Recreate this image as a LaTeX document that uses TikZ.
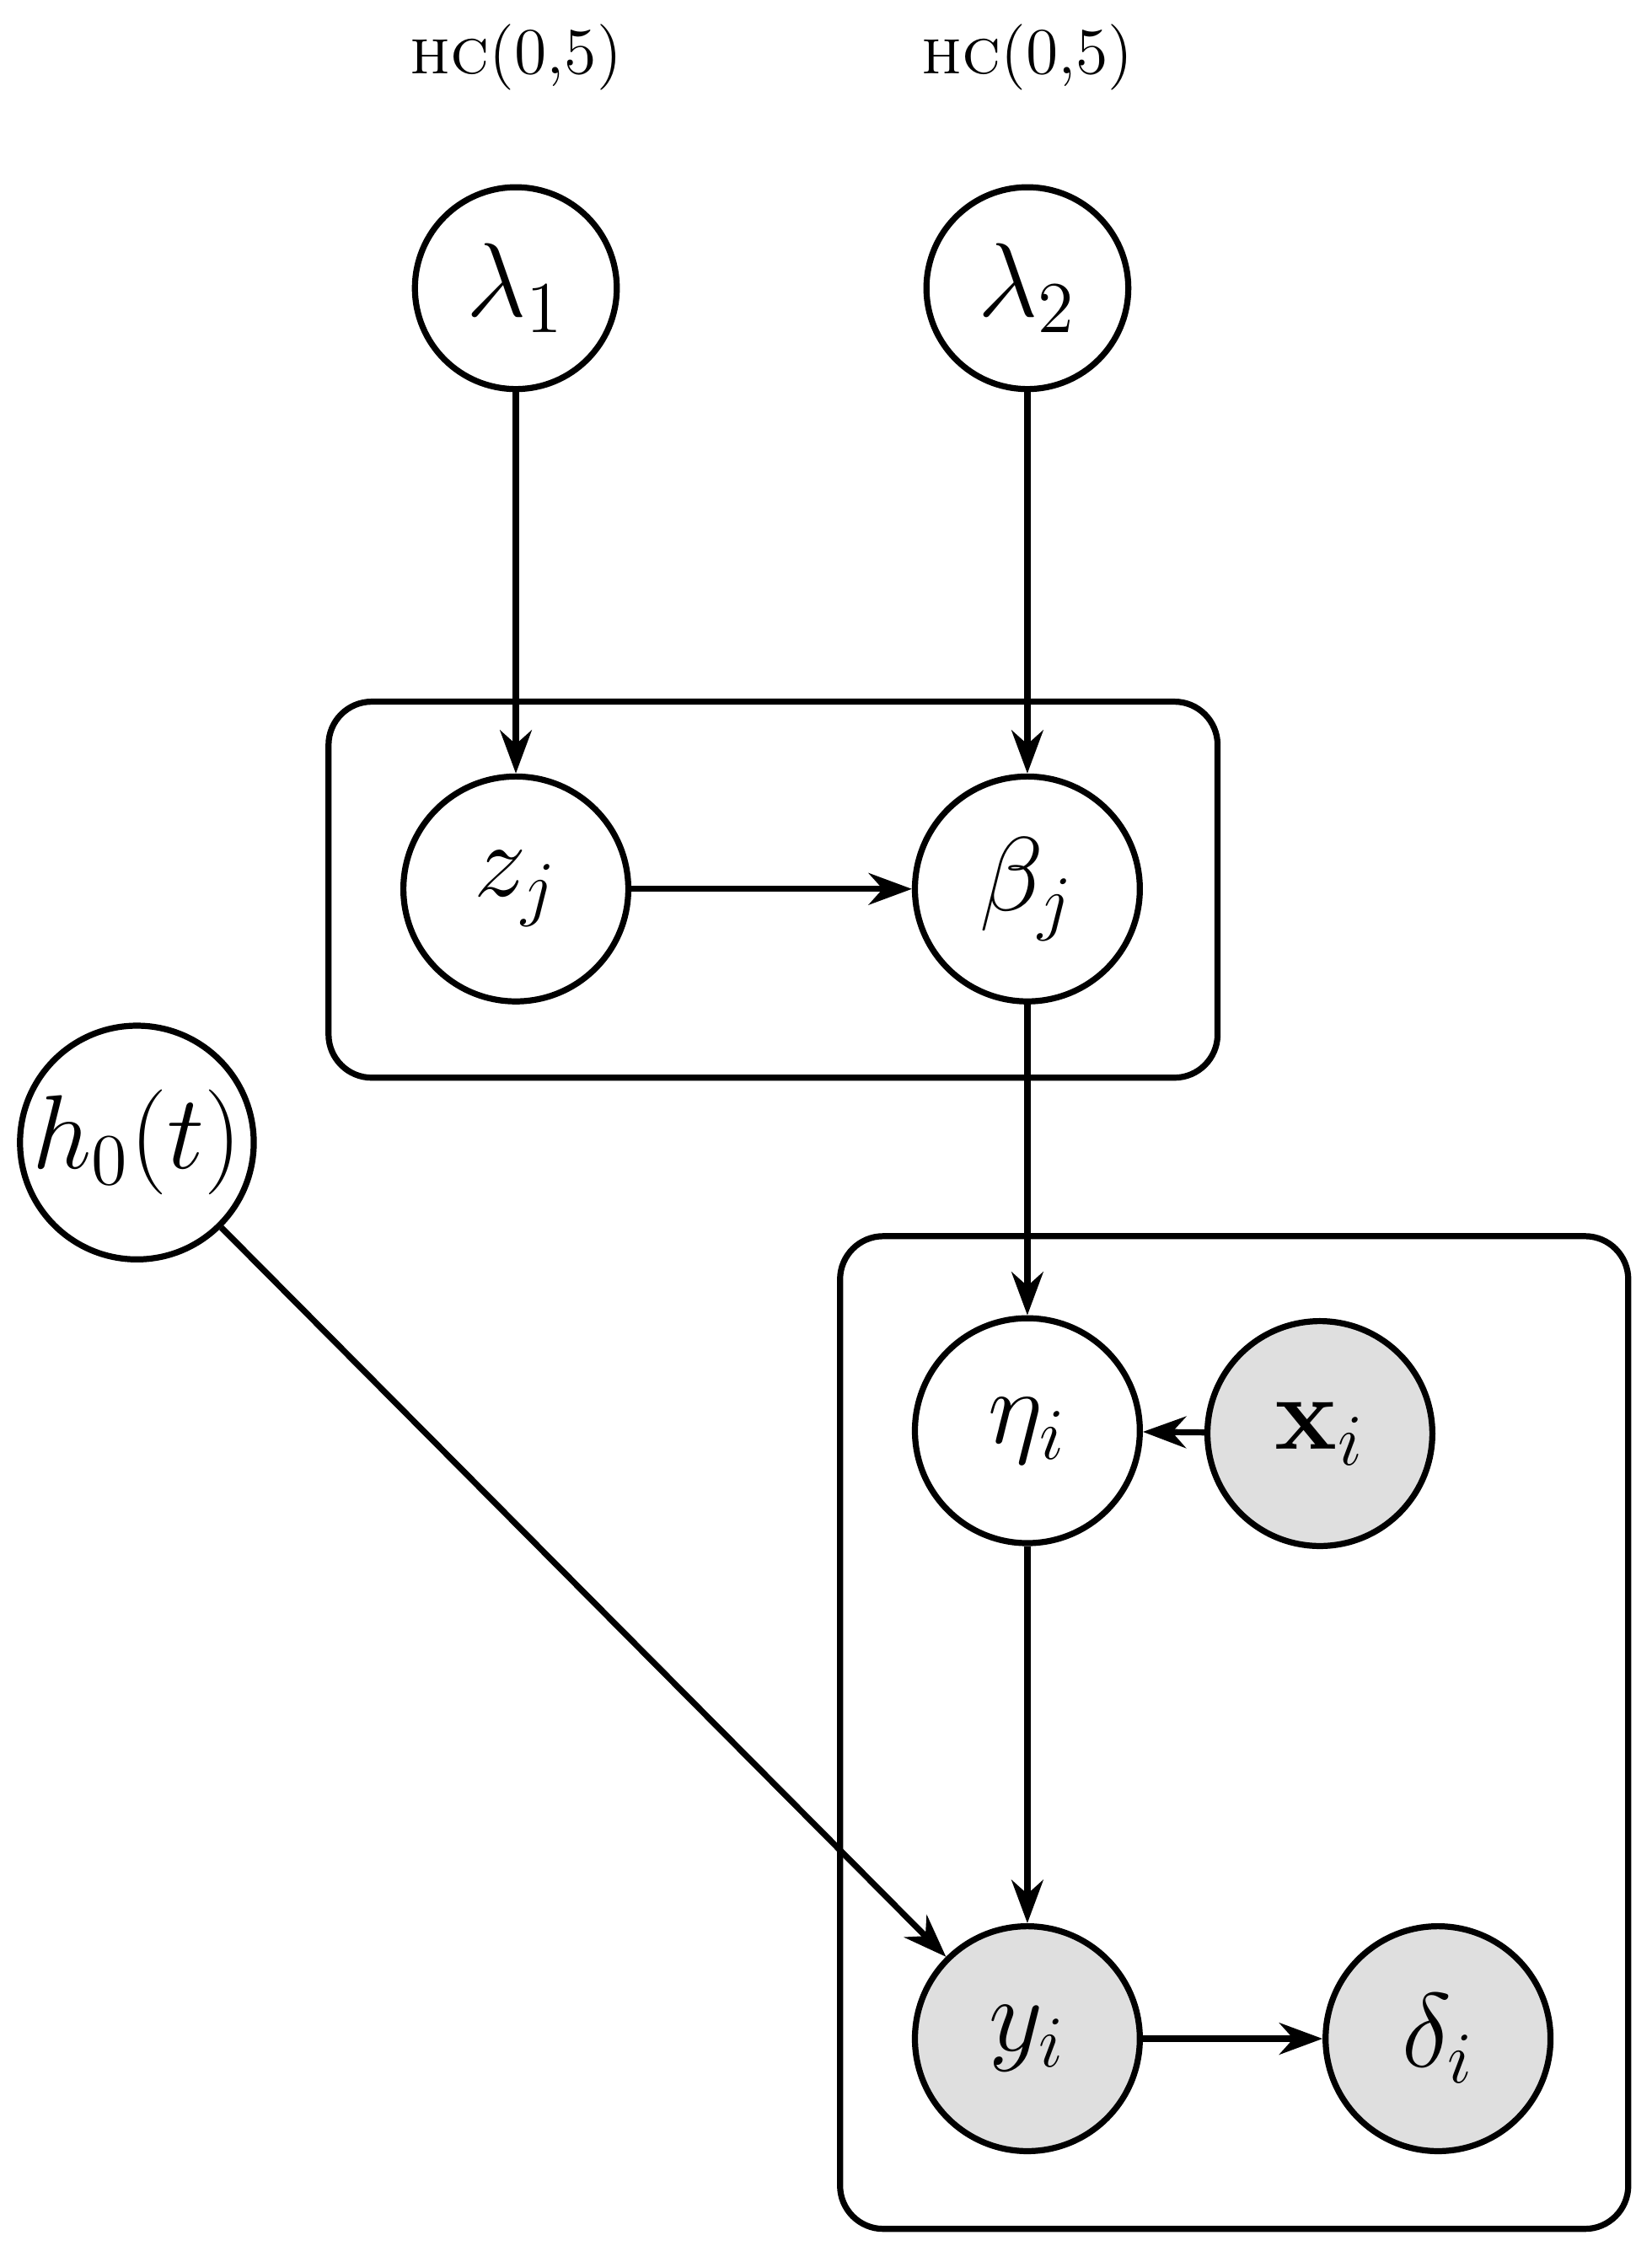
\documentclass[tikz,border=0pt]{standalone}
\usetikzlibrary{arrows.meta}
\begin{document}
\begin{tikzpicture}[x=0.01cm,y=-0.01cm,
  v/.style={circle,draw,line width=1.2pt,minimum size=1.56cm,inner sep=0pt,font=\fontsize{20}{24}\selectfont},
  obs/.style={v,fill=gray!25},
  lam/.style={v,minimum size=1.40cm},
  plate/.style={draw,line width=1.2pt,rounded corners=0.3cm},
  arr/.style={line width=1.2pt,-{Stealth[length=0.3cm,width=0.22cm]}},
  lbl/.style={font=\fontsize{13}{15}\selectfont}]
\useasboundingbox (0,0) rectangle (1146,1570);
\draw[plate] (228,487) rectangle (845,748);
\draw[plate] (583,858) rectangle (1130,1547);
\node[lbl] (hc1) at (358,40) {\textsc{hc}(0,5)};
\node[lbl] (hc2) at (713,40) {\textsc{hc}(0,5)};
\node[lam] (l1) at (358,200) {$\lambda_1$};
\node[lam] (l2) at (713,200) {$\lambda_2$};
\node[v] (z) at (358,617) {$z_j$};
\node[v] (b) at (713,617) {$\beta_j$};
\node[v] (h) at (95,793) {$h_0(t)$};
\node[v] (e) at (713,993) {$\eta_i$};
\node[obs] (x) at (916,995) {$\mathbf{x}_i$};
\node[obs] (y) at (713,1415) {$y_i$};
\node[obs] (d) at (998,1415) {$\delta_i$};
\draw[arr] (l1) -- (z);
\draw[arr] (l2) -- (b);
\draw[arr] (z) -- (b);
\draw[arr] (b) -- (e);
\draw[arr] (x) -- (e);
\draw[arr] (e) -- (y);
\draw[arr] (h) -- (y);
\draw[arr] (y) -- (d);
\end{tikzpicture}
\end{document}
